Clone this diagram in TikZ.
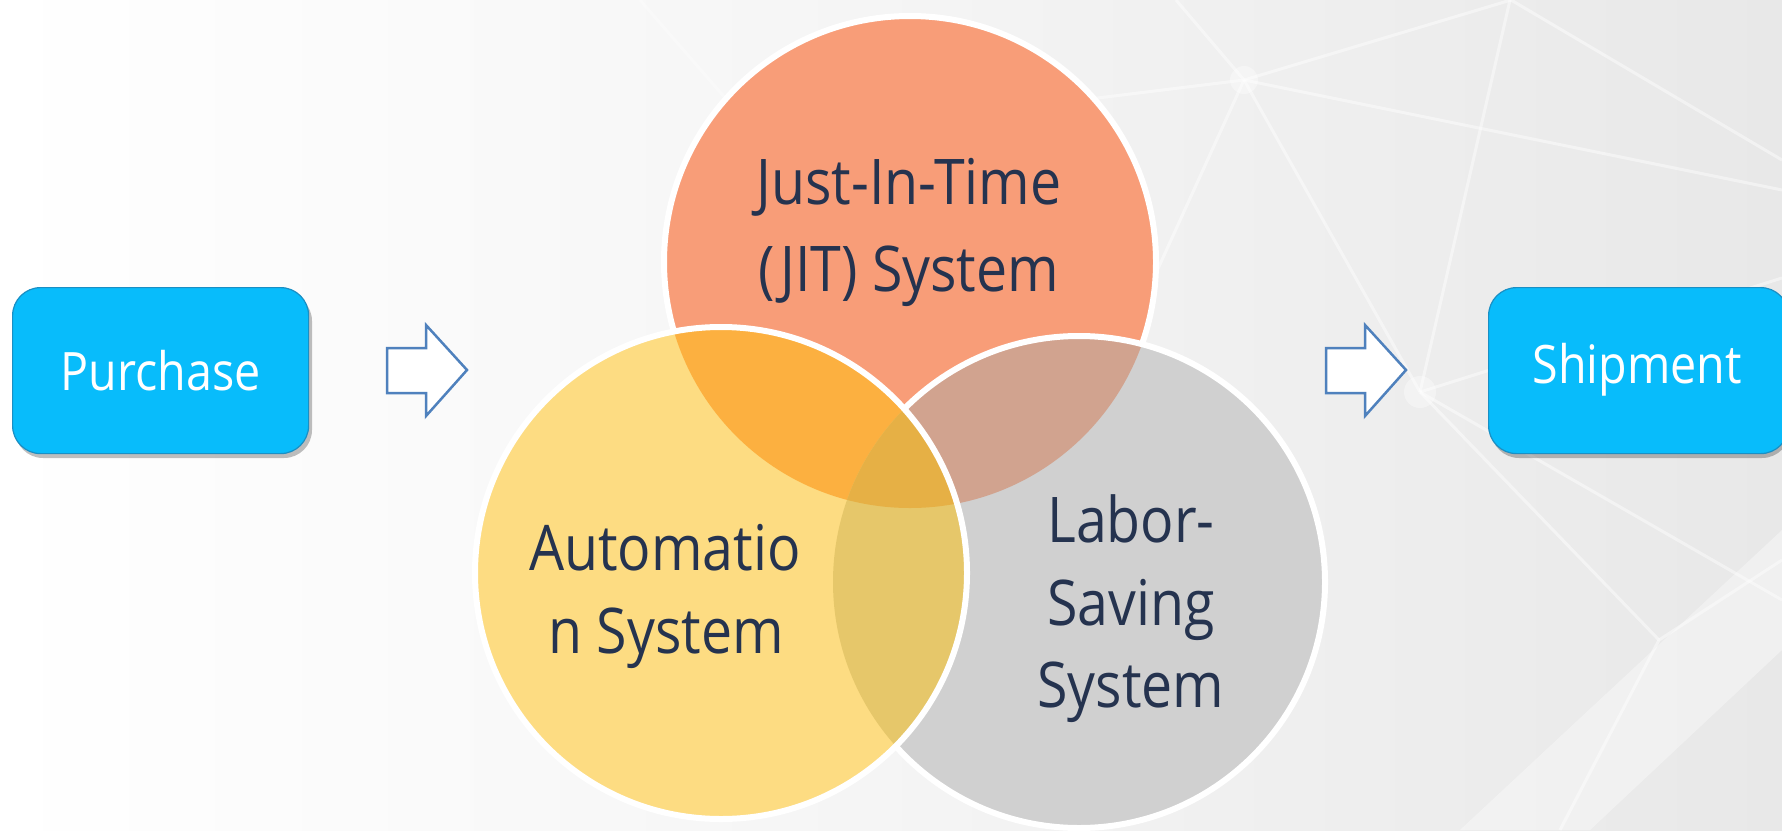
\documentclass[tikz,border=0pt]{standalone}
\usepackage{fontspec}
\setmainfont{Open Sans}[FakeStretch=0.88]
\usetikzlibrary{shadings}
\definecolor{bgR}{HTML}{E8E8E8}
\definecolor{salmon}{HTML}{F89D78}
\definecolor{orangeI}{HTML}{FCB040}
\definecolor{yel}{HTML}{FDDC82}
\definecolor{gry}{HTML}{D0D0D0}
\definecolor{tr}{HTML}{D1A38F}
\definecolor{lens}{HTML}{E6C76A}
\definecolor{triple}{HTML}{E6B045}
\definecolor{boxblue}{HTML}{08BCFB}
\definecolor{boxedge}{HTML}{1A8FC4}
\definecolor{arrowblue}{HTML}{4F81BD}
\definecolor{txt}{HTML}{25334F}
\tikzset{
  circtext/.style={text=txt, align=center, font=\fontsize{63}{86}\selectfont, inner sep=0pt},
  boxstyle/.style={fill=boxblue, draw=boxedge, line width=1.2pt, rounded corners=28pt},
  boxtext/.style={text=white, font=\fontsize{53}{60}\selectfont, inner sep=0pt},
  blockarrow/.style={fill=white, draw=arrowblue, line width=2.5pt, line join=miter},
  outline/.style={draw=white, line width=6pt},
  netline/.style={white, line width=3pt, opacity=0.45}
}
\begin{document}
\begin{tikzpicture}[x=1pt,y=-1pt]
\useasboundingbox (0,0) rectangle (1782,830);
% background
\shade[left color=white, right color=bgR, middle color=white!55!bgR] (0,0) rectangle (1782,830);
% network lines
\coordinate (hA) at (1244,80);
\coordinate (hB) at (1420,392);
\draw[netline] (hA) -- (1511,0);
\draw[netline] (hA) -- (1176,0);
\draw[netline] (hA) -- (1000,110);
\draw[netline] (hA) -- (hB);
\draw[netline] (hA) -- (1782,190);
\draw[netline] (hA) -- (1130,330);
\draw[netline] (hB) -- (1782,278);
\draw[netline] (hB) -- (1659,640);
\draw[netline] (hB) -- (1510,0);
\draw[netline] (hB) -- (1782,600);
\draw[netline] (1511,0) -- (1782,160);
\draw[netline] (1659,640) -- (1782,560);
\draw[netline] (1659,640) -- (1560,830);
\draw[netline, opacity=0.3] (640,0) -- (740,115);
\draw[netline, opacity=0.3] (0,230) -- (300,70);
\fill[white, opacity=0.35] (hA) circle[radius=14pt];
\fill[white, opacity=0.35] (hB) circle[radius=16pt];
\fill[white, opacity=0.35] (1460,830) -- (1782,530) -- (1782,650) -- (1590,830) -- cycle;
% boxes
\fill[black, opacity=0.25, rounded corners=28pt] (15,293) rectangle (312,458);
\node[boxstyle, minimum width=296pt, minimum height=166pt, anchor=north west] (purchase) at (12,287) {};
\node[boxtext] at (purchase.center) {Purchase};
\fill[black, opacity=0.25, rounded corners=28pt] (1491,293) rectangle (1790,458);
\node[boxstyle, minimum width=300pt, minimum height=166pt, anchor=north west] (shipment) at (1488,287) {};
\node[boxtext] at (1637,370) {Shipment};
% block arrows
\draw[blockarrow] (387,348) -- (426,348) -- (426,325) -- (467,370) -- (426,416) -- (426,393) -- (387,393) -- cycle;
\draw[blockarrow] (1326,348) -- (1365,348) -- (1365,325) -- (1406,370) -- (1365,416) -- (1365,393) -- (1326,393) -- cycle;
% circles
\coordinate (T) at (910,262);
\coordinate (L) at (721,573);
\coordinate (R) at (1079,582);
\def\rr{246pt}
\fill[salmon] (T) circle[radius=\rr];
\draw[outline] (T) circle[radius=\rr];
\fill[gry] (R) circle[radius=\rr];
\begin{scope}
  \clip (T) circle[radius=\rr];
  \fill[tr] (R) circle[radius=\rr];
\end{scope}
\draw[outline] (R) circle[radius=\rr];
\fill[yel] (L) circle[radius=\rr];
\begin{scope}
  \clip (T) circle[radius=\rr];
  \fill[orangeI] (L) circle[radius=\rr];
\end{scope}
\begin{scope}
  \clip (R) circle[radius=\rr];
  \fill[lens] (L) circle[radius=\rr];
\end{scope}
\begin{scope}
  \clip (R) circle[radius=\rr];
  \clip (T) circle[radius=\rr];
  \fill[triple] (L) circle[radius=\rr];
\end{scope}
\draw[outline] (L) circle[radius=\rr];
% circle texts
\node[circtext, anchor=base] (jit1) at (909,204) {Just-In-Time};
\node[circtext, anchor=base] (jit2) at (909,291) {(JIT) System};
\node[circtext, anchor=base] (au1) at (665,570) {Automatio};
\node[circtext, anchor=base] (au2) at (666,653) {n System};
\node[circtext, anchor=base] (lb1) at (1131,542) {Labor-};
\node[circtext, anchor=base] (lb2) at (1131,625) {Saving};
\node[circtext, anchor=base] (lb3) at (1131,707) {System};
\end{tikzpicture}
\end{document}
